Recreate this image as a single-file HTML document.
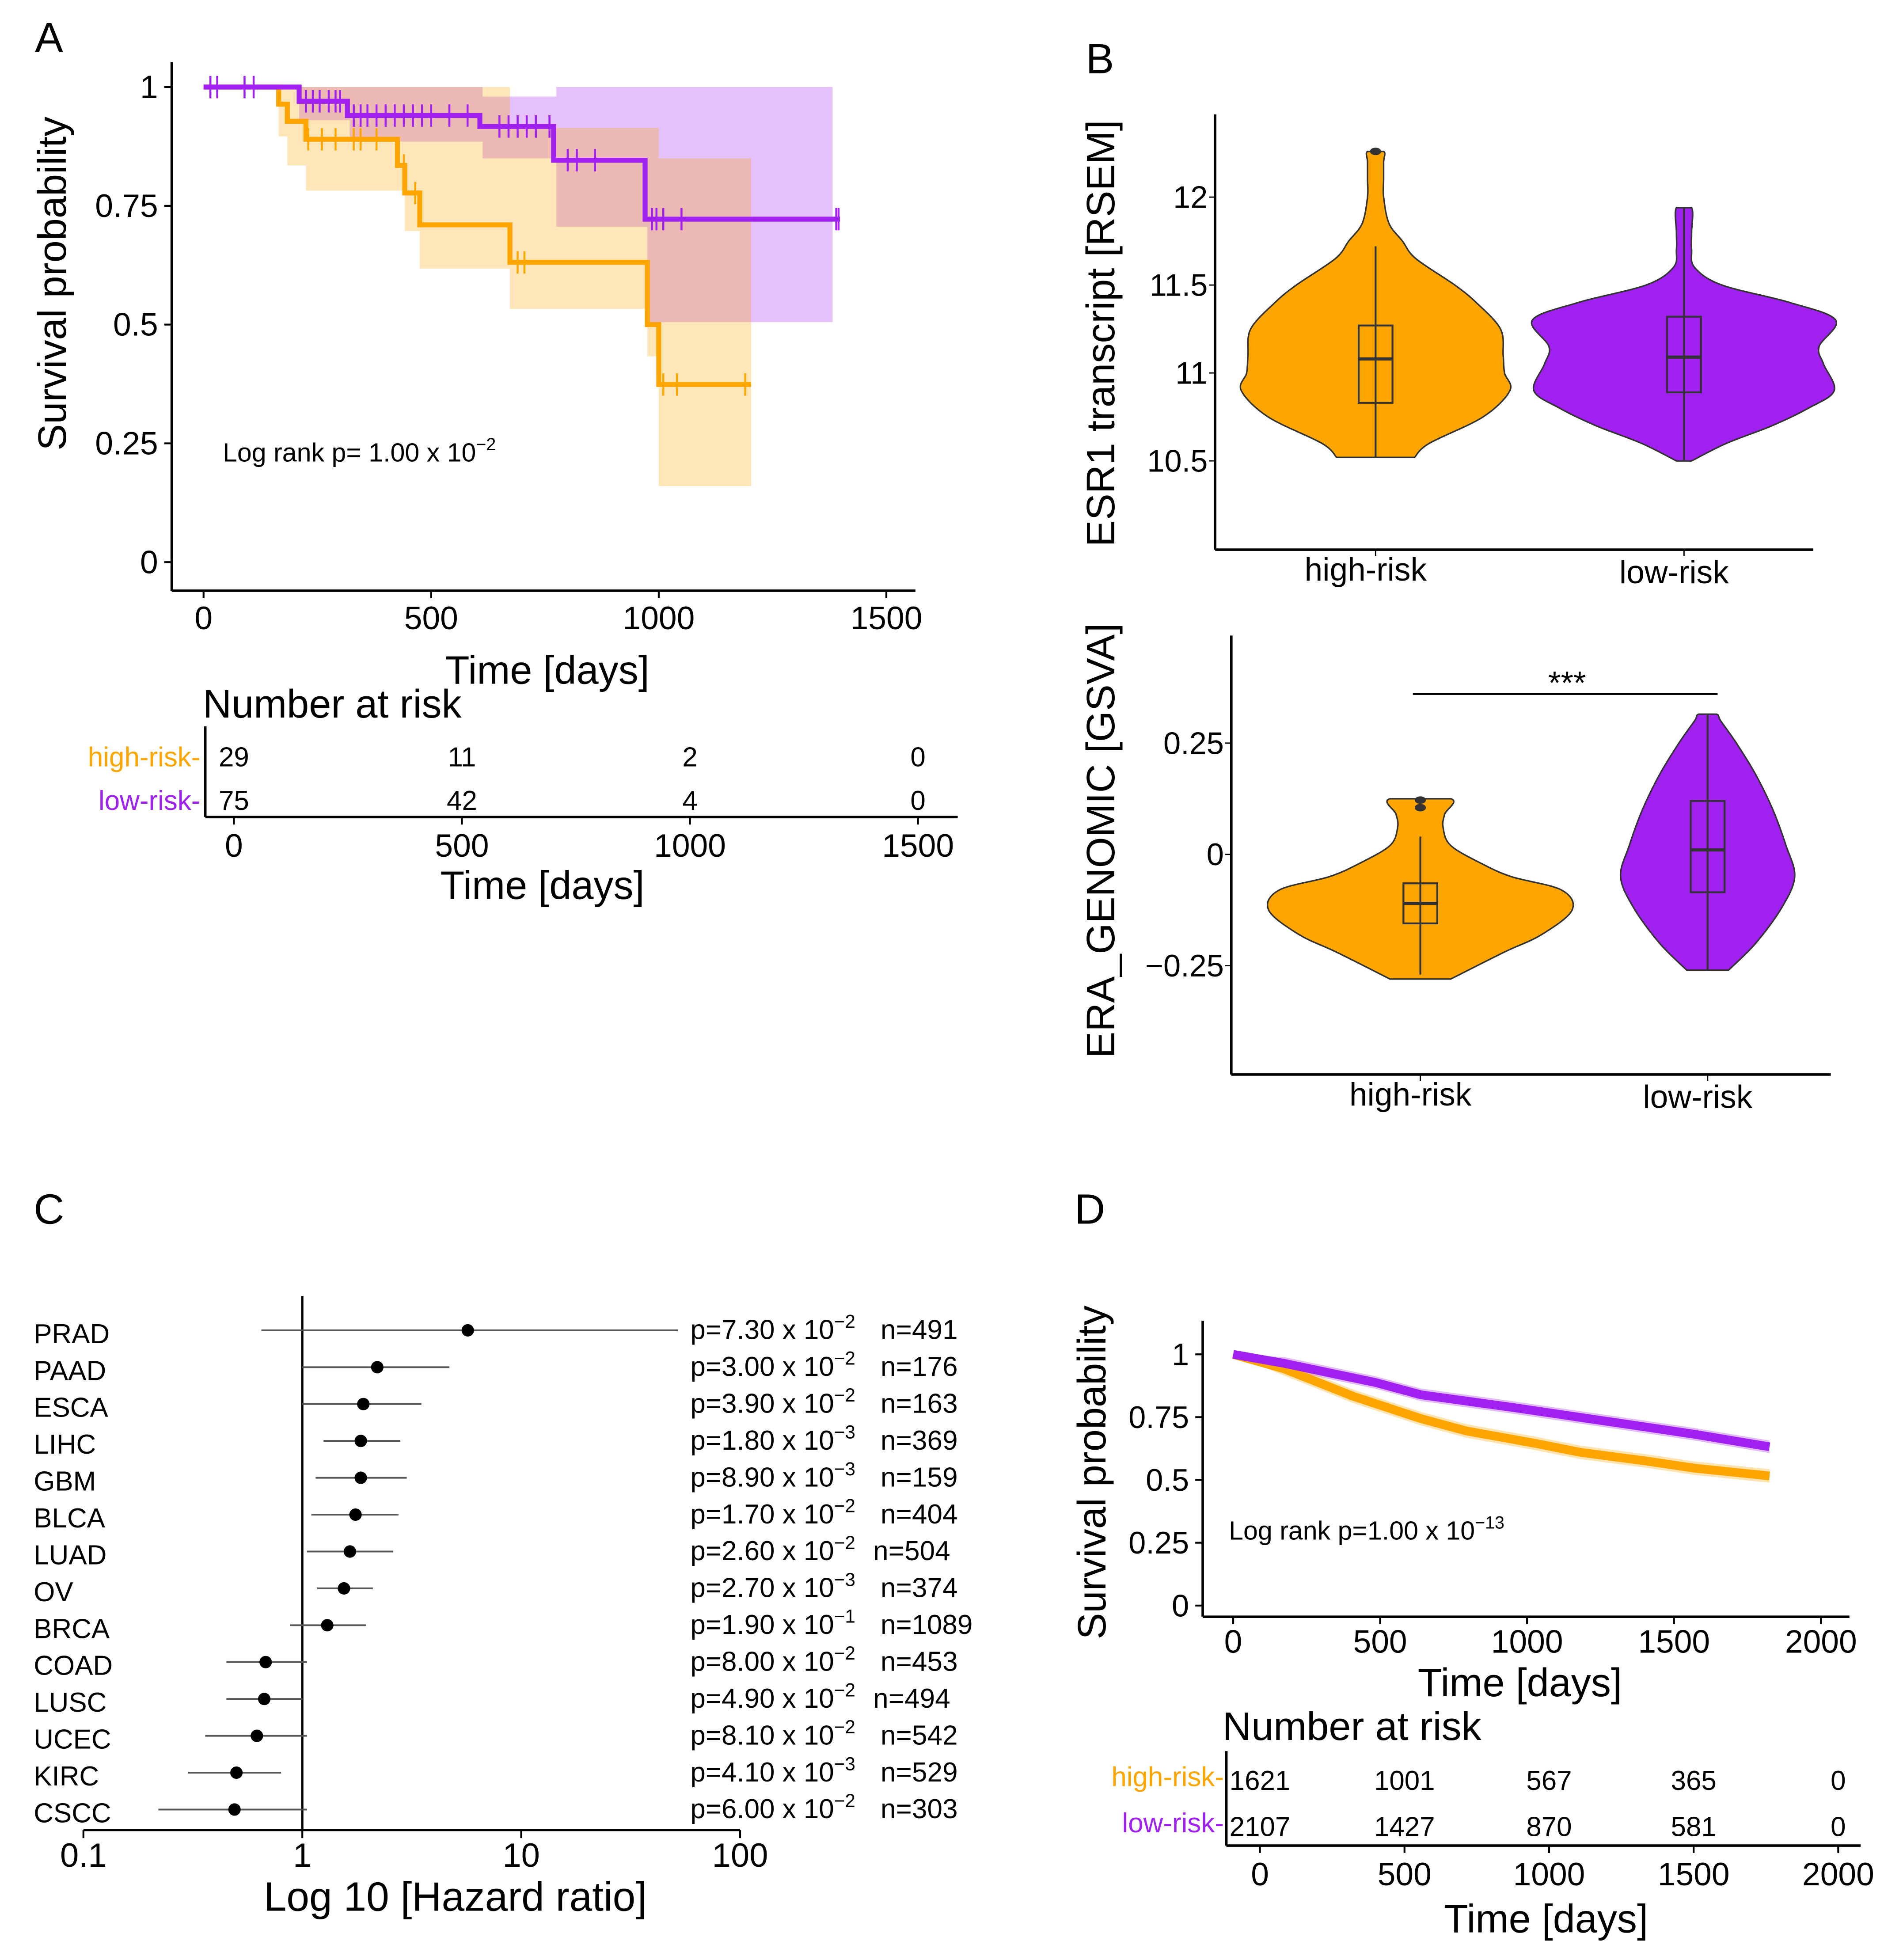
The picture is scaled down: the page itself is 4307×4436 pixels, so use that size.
<!DOCTYPE html>
<html><head><meta charset="utf-8"><style>
html,body{margin:0;padding:0;background:#fff;}
svg{display:block;}
text{font-family:"Liberation Sans Narrow","Liberation Sans",Arial,sans-serif;fill:#000;}
.w{font-family:"Liberation Sans",Arial,sans-serif;}
</style></head><body>
<svg id="fig" xmlns="http://www.w3.org/2000/svg" width="4307" height="4436" viewBox="0 0 1530 1576">
<rect x="0" y="0" width="1530" height="1576" fill="#fff"/>
<text x="28" y="42" font-size="34" class="w">A</text>
<text x="873" y="59" font-size="34" class="w">B</text>
<text x="27" y="984" font-size="34" class="w">C</text>
<text x="864" y="984" font-size="34" class="w">D</text>
<g id="gA"></g>
<g id="gB1"></g>
<g id="gB2"></g>
<g id="gC"></g>
<g id="gD"></g>
</svg>
<script>
// ---------- Panel A data ----------
const aTicksX = [0, 500, 1000, 1500];
const aTicksY = [0, 0.25, 0.5, 0.75, 1];
const aTickYLabels = ["0", "0.25", "0.5", "0.75", "1"];
const aHighT = [0, 165, 184, 225, 426, 442, 475, 673, 975, 1000];
const aHighS = [1, 0.964, 0.928, 0.89, 0.835, 0.777, 0.71, 0.631, 0.50, 0.374];
const aHighEnd = 1203;
const aLowT = [0, 210, 316, 607, 769, 970];
const aLowS = [1, 0.97, 0.94, 0.917, 0.846, 0.722];
const aLowEnd = 1398;
const aHighCiT = [165, 184, 225, 426, 442, 475, 673, 975, 1000];
const aHighCiHi = [1, 1, 1, 1, 1, 1, 0.914, 0.914, 0.85];
const aHighCiEnd = 1203;
const aHighCiLo = [0.896, 0.835, 0.782, 0.782, 0.697, 0.618, 0.533, 0.433, 0.16];
const aLowCiT = [210, 321, 613, 775, 975];
const aLowCiLo = [0.93, 0.885, 0.85, 0.706, 0.505];
const aLowCiHi = [1, 1, 0.98, 1, 1];
const aLowCiEnd = 1382;
const aHighCens = [230, 260, 290, 330, 345, 380, 440, 465, 690, 705, 1010, 1040, 1190];
const aLowCens = [15, 30, 90, 110, 225, 240, 255, 275, 290, 300, 330, 345, 360, 380, 400, 420, 440, 460, 480, 500, 540, 580, 650, 670, 690, 710, 730, 760, 800, 820, 860, 985, 995, 1010, 1050, 1390, 1395];
const aRiskTimes = [0, 500, 1000, 1500];
const aRiskHigh = [29, 11, 2, 0];
const aRiskLow = [75, 42, 4, 0];

// ---------- Panel B data ----------
const bCats = ["high-risk", "low-risk"];
const b1Ticks = [10.5, 11, 11.5, 12];
const b1TickLabels = ["10.5", "11", "11.5", "12"];
const b1HighLv = [10.52, 10.6, 10.75, 10.9, 11.0, 11.1, 11.25, 11.4, 11.5, 11.65, 11.75, 11.85, 12.0, 12.1, 12.2, 12.26];
const b1HighD = [0.29, 0.4, 0.8, 1.0, 0.96, 0.95, 0.93, 0.75, 0.59, 0.3, 0.2, 0.1, 0.06, 0.06, 0.06, 0.06];
const b1LowLv = [10.5, 10.6, 10.7, 10.8, 10.9, 11.05, 11.15, 11.3, 11.4, 11.5, 11.6, 11.7, 11.8, 11.94];
const b1LowD = [0.05, 0.28, 0.58, 0.82, 0.99, 0.92, 0.89, 1.0, 0.7, 0.25, 0.07, 0.05, 0.05, 0.05];
const b1Box = [[10.52, 10.83, 11.08, 11.27, 11.72], [10.5, 10.89, 11.09, 11.32, 11.94]];
const b1Outliers = [[12.26], []];
const b2Ticks = [-0.25, 0, 0.25];
const b2TickLabels = ["\u22120.25", "0", "0.25"];
const b2HighLv = [-0.28, -0.22, -0.18, -0.125, -0.08, -0.05, -0.02, 0.02, 0.06, 0.09, 0.125];
const b2HighD = [0.2, 0.55, 0.8, 1.0, 0.93, 0.6, 0.4, 0.2, 0.15, 0.16, 0.2];
const b2LowLv = [-0.26, -0.2, -0.12, -0.05, 0.02, 0.1, 0.18, 0.25, 0.3, 0.315];
const b2LowD = [0.24, 0.55, 0.85, 1.0, 0.9, 0.75, 0.55, 0.33, 0.15, 0.1];
const b2Box = [[-0.27, -0.155, -0.11, -0.065, 0.04], [-0.26, -0.085, 0.01, 0.12, 0.315]];
const b2Outliers = [[0.105, 0.122], []];

// ---------- Panel C data ----------
const cTypes = ["PRAD","PAAD","ESCA","LIHC","GBM","BLCA","LUAD","OV","BRCA","COAD","LUSC","UCEC","KIRC","CSCC"];
const cHR = [5.7, 2.2, 1.9, 1.85, 1.85, 1.75, 1.65, 1.55, 1.3, 0.68, 0.67, 0.62, 0.5, 0.49];
const cLo = [0.65, 1.0, 1.0, 1.25, 1.15, 1.1, 1.05, 1.17, 0.88, 0.45, 0.45, 0.36, 0.3, 0.22];
const cHi = [52, 4.7, 3.5, 2.8, 3.0, 2.75, 2.6, 2.1, 1.95, 1.05, 1.0, 1.05, 0.8, 1.05];
const cPMant = ["7.30","3.00","3.90","1.80","8.90","1.70","2.60","2.70","1.90","8.00","4.90","8.10","4.10","6.00"];
const cPExp = ["\u22122","\u22122","\u22122","\u22123","\u22123","\u22122","\u22122","\u22123","\u22121","\u22122","\u22122","\u22122","\u22123","\u22122"];
const cN = ["491","176","163","369","159","404","504","374","1089","453","494","542","529","303"];
const cTicks = [0.1, 1, 10, 100];
const cTickLabels = ["0.1", "1", "10", "100"];

// ---------- Panel D data ----------
const dTicksX = [0, 500, 1000, 1500, 2000];
const dTicksY = [0, 0.25, 0.5, 0.75, 1];
const dTickYLabels = ["0", "0.25", "0.5", "0.75", "1"];
const dLowT = [0, 174, 484, 639, 949, 1181, 1414, 1569, 1825];
const dLowS = [1, 0.964, 0.888, 0.839, 0.789, 0.749, 0.709, 0.682, 0.632];
const dHighT = [0, 174, 406, 639, 794, 1026, 1181, 1414, 1569, 1825];
const dHighS = [1, 0.942, 0.834, 0.744, 0.695, 0.646, 0.61, 0.574, 0.547, 0.516];
const dRiskTimes = [0, 500, 1000, 1500, 2000];
const dRiskHigh = [1621, 1001, 567, 365, 0];
const dRiskLow = [2107, 1427, 870, 581, 0];

const NS = "http://www.w3.org/2000/svg";
const ORANGE = "#FFA500", PURPLE = "#A020F0";
function mk(tag, attrs, parent) {
  const e = document.createElementNS(NS, tag);
  for (const k in attrs) e.setAttribute(k, attrs[k]);
  parent.appendChild(e);
  return e;
}
function txt(parent, x, y, s, size, anchor, fill) {
  const e = mk('text', {x: x, y: y, 'font-size': size, 'text-anchor': anchor || 'middle', 'dominant-baseline': 'central'}, parent);
  if (fill) e.setAttribute('style', 'fill:' + fill);
  e.textContent = s;
  return e;
}
function stepPath(T, S, end, fx, fy) {
  let d = 'M' + fx(T[0]) + ',' + fy(S[0]);
  for (let i = 1; i < T.length; i++) d += ' H' + fx(T[i]) + ' V' + fy(S[i]);
  d += ' H' + fx(end);
  return d;
}
function bandPath(T, lo, hi, end, fx, fy) {
  let top = '', bot = [];
  for (let i = 0; i < T.length; i++) {
    const x0 = fx(T[i]), x1 = fx(i + 1 < T.length ? T[i + 1] : end);
    top += (i === 0 ? 'M' : 'L') + x0 + ',' + fy(hi[i]) + ' L' + x1 + ',' + fy(hi[i]) + ' ';
    bot.unshift('L' + x1 + ',' + fy(lo[i]) + ' L' + x0 + ',' + fy(lo[i]));
  }
  return top + bot.join(' ') + ' Z';
}

// =============== Panel A ===============
(function () {
  const g = document.getElementById('gA');
  const fx = t => 163.6 + t * 0.366;
  const fy = s => 452 - s * 382;
  const lb = mk('path', {d: bandPath(aLowCiT, aLowCiLo, aLowCiHi, aLowCiEnd, fx, fy), fill: PURPLE, 'fill-opacity': 0.28}, g);
  
  
  const hb = mk('path', {d: bandPath(aHighCiT, aHighCiLo, aHighCiHi, aHighCiEnd, fx, fy), fill: ORANGE, 'fill-opacity': 0.28}, g);
  
  
  const hc = mk('path', {d: stepPath(aHighT, aHighS, aHighEnd, fx, fy), fill: 'none', stroke: ORANGE, 'stroke-width': 4}, g);
  
  
  const lc = mk('path', {d: stepPath(aLowT, aLowS, aLowEnd, fx, fy), fill: 'none', stroke: PURPLE, 'stroke-width': 4}, g);
  
  
  function survAt(T, S, t) { let s = S[0]; for (let i = 0; i < T.length; i++) if (T[i] <= t) s = S[i]; return s; }
  aHighCens.forEach(t => {
    const c = mk('line', {x1: fx(t), x2: fx(t), y1: fy(survAt(aHighT, aHighS, t)) - 9, y2: fy(survAt(aHighT, aHighS, t)) + 9, stroke: ORANGE, 'stroke-width': 1.6}, g);
    
    
  });
  aLowCens.forEach(t => {
    const c = mk('line', {x1: fx(t), x2: fx(t), y1: fy(survAt(aLowT, aLowS, t)) - 9, y2: fy(survAt(aLowT, aLowS, t)) + 9, stroke: PURPLE, 'stroke-width': 1.6}, g);
    
    
  });
  const ya = mk('line', {x1: 138, x2: 138, y1: 50, y2: 475, stroke: '#000', 'stroke-width': 2}, g);
  
  
  const xa = mk('line', {x1: 138, x2: 736, y1: 475, y2: 475, stroke: '#000', 'stroke-width': 2}, g);
  
  
  aTicksX.forEach(t => {
    const tk = mk('line', {x1: fx(t), x2: fx(t), y1: 475, y2: 481, stroke: '#000', 'stroke-width': 1.5}, g);
    
    
    const l = txt(g, fx(t), 497, String(t), 26);
    
    
  });
  aTicksY.forEach((v, i) => {
    const tk = mk('line', {x1: 132, x2: 138, y1: fy(v), y2: fy(v), stroke: '#000', 'stroke-width': 1.5}, g);
    
    
    const l = txt(g, 127, fy(v), aTickYLabels[i], 26, 'end');
    
    
  });
  const yt = txt(g, 0, 0, 'Survival probability', 32);
  yt.setAttribute('transform', 'translate(42,228) rotate(-90)');
  
  
  const xt = txt(g, 440, 539, 'Time [days]', 32);
  
  
  const lr = mk('text', {x: 179, y: 371, 'font-size': 21}, g);
  lr.innerHTML = 'Log rank p= 1.00 x 10<tspan dy="-9" font-size="14">\u22122</tspan>';
  
  
  const rx = t => 188 + t * 0.3667;
  const nt = mk('text', {x: 163, y: 577, 'font-size': 32}, g);
  nt.textContent = 'Number at risk';
  
  
  const rv = mk('line', {x1: 165, x2: 165, y1: 584, y2: 657, stroke: '#000', 'stroke-width': 2}, g);
  
  
  const rh = mk('line', {x1: 165, x2: 770, y1: 657, y2: 657, stroke: '#000', 'stroke-width': 2}, g);
  
  
  const l1 = txt(g, 161, 609, 'high-risk-', 22, 'end', ORANGE);
  
  
  const l2 = txt(g, 161, 644, 'low-risk-', 22, 'end', PURPLE);
  
  
  aRiskTimes.forEach((t, i) => {
    const a = txt(g, rx(t), 609, String(aRiskHigh[i]), 22);
    
    
    const b = txt(g, rx(t), 644, String(aRiskLow[i]), 22);
    
    
    const tk = mk('line', {x1: rx(t), x2: rx(t), y1: 657, y2: 663, stroke: '#000', 'stroke-width': 1.5}, g);
    
    
    const tl = txt(g, rx(t), 680, String(t), 26);
    
    
  });
  const rt = txt(g, 436, 712, 'Time [days]', 32);
  
  
})();

// =============== Panel B ===============
function violinPanel(g, o) {
  const fy = v => o.y0 + (v - o.v0) * o.k;
  [o.hLv, o.lLv].forEach((lv, gi) => {
    const D = gi === 0 ? o.hD : o.lD;
    const cx = o.cx[gi], mw = o.mw[gi];
    let right = lv.map((v, i) => [cx + D[i] * mw, fy(v)]);
    let left = lv.map((v, i) => [cx - D[i] * mw, fy(v)]).reverse();
    const pts = right.concat(left);
    let d = 'M' + pts[0][0] + ',' + pts[0][1];
    for (let i = 0; i < pts.length - 1; i++) {
      const p0 = pts[Math.max(i - 1, 0)], p1 = pts[i], p2 = pts[i + 1], p3 = pts[Math.min(i + 2, pts.length - 1)];
      if (i === lv.length - 1) { d += ' L' + p2[0] + ',' + p2[1]; continue; }
      const c1 = [p1[0] + (p2[0] - p0[0]) / 6, p1[1] + (p2[1] - p0[1]) / 6];
      const c2 = [p2[0] - (p3[0] - p1[0]) / 6, p2[1] - (p3[1] - p1[1]) / 6];
      d += ' C' + c1[0] + ',' + c1[1] + ' ' + c2[0] + ',' + c2[1] + ' ' + p2[0] + ',' + p2[1];
    }
    d += ' Z';
    const vp = mk('path', {d: d, fill: gi === 0 ? ORANGE : PURPLE, stroke: '#333', 'stroke-width': 1.2}, g);
    
    
    const B = o.box[gi];
    const wl = mk('line', {x1: cx, x2: cx, y1: fy(B[0]), y2: fy(B[4]), stroke: '#333', 'stroke-width': 1.5}, g);
    
    
    const br = mk('rect', {x: cx - 13.6, y: fy(B[3]), width: 27.2, height: fy(B[1]) - fy(B[3]), fill: 'none', stroke: '#333', 'stroke-width': 1.5}, g);
    
    
    const md = mk('line', {x1: cx - 13.6, x2: cx + 13.6, y1: fy(B[2]), y2: fy(B[2]), stroke: '#333', 'stroke-width': 2.5}, g);
    
    
    o.out[gi].forEach(v => {
      const c = mk('ellipse', {cx: cx, cy: fy(v), rx: 4.5, ry: 3, fill: '#333'}, g);
      
      
    });
  });
  const ya = mk('line', {x1: o.ax, x2: o.ax, y1: o.yTop, y2: o.yBot, stroke: '#000', 'stroke-width': 2}, g);
  
  
  const xa = mk('line', {x1: o.ax, x2: o.xEnd, y1: o.yBot, y2: o.yBot, stroke: '#000', 'stroke-width': 2}, g);
  
  
  o.ticks.forEach((v, i) => {
    const tk = mk('line', {x1: o.ax - 5, x2: o.ax, y1: fy(v), y2: fy(v), stroke: '#000', 'stroke-width': 1}, g);
    
    
    const l = txt(g, o.ax - 6, fy(v), o.tl[i], 25, 'end');
    l.setAttribute('class', 'w');
    
    
  });
  bCats.forEach((c, i) => {
    const tk = mk('line', {x1: o.cx[i], x2: o.cx[i], y1: o.yBot, y2: o.yBot + 5, stroke: '#000', 'stroke-width': 1}, g);
    
    
    const l = txt(g, o.cx[i] - 8, o.yBot + 16 + (i ? 2 : 0), c, 26);
    l.setAttribute('class', 'w');
    
    
  });
  const yt = txt(g, 0, 0, o.title, 32);
  yt.setAttribute('class', 'w');
  yt.setAttribute('transform', 'translate(885,' + o.titleY + ') rotate(-90)');
  
  
}
violinPanel(document.getElementById('gB1'), {
  y0: 158.5, v0: 12, k: -141.4, cx: [1106, 1354], mw: [108, 122],
  hLv: b1HighLv, hD: b1HighD, lLv: b1LowLv, lD: b1LowD, box: b1Box, out: b1Outliers,
  ax: 977, yTop: 92, yBot: 442, xEnd: 1458, ticks: b1Ticks, tl: b1TickLabels,
  title: 'ESR1 transcript [RSEM]', titleY: 268
});
violinPanel(document.getElementById('gB2'), {
  y0: 687, v0: 0, k: -358, cx: [1142, 1373], mw: [122, 70],
  hLv: b2HighLv, hD: b2HighD, lLv: b2LowLv, lD: b2LowD, box: b2Box, out: b2Outliers,
  ax: 990, yTop: 511, yBot: 864, xEnd: 1472, ticks: b2Ticks, tl: b2TickLabels,
  title: 'ERA_GENOMIC [GSVA]', titleY: 676
});
(function () {
  const g = document.getElementById('gB2');
  const sl = mk('line', {x1: 1136, x2: 1381, y1: 558, y2: 558, stroke: '#000', 'stroke-width': 1.6}, g);
  
  
  const st = txt(g, 1260, 549, '***', 26);
  st.setAttribute('class', 'w');
  
  
})();

// =============== Panel C ===============
(function () {
  const g = document.getElementById('gC');
  const fx = v => 243 + Math.log10(v) * 176;
  const fy = i => 1071.7 + i * 29.64;
  const vl = mk('line', {x1: fx(1), x2: fx(1), y1: 1042, y2: 1471.5, stroke: '#000', 'stroke-width': 1.8}, g);
  
  
  const xa = mk('line', {x1: fx(0.1), x2: fx(100), y1: 1471.5, y2: 1471.5, stroke: '#000', 'stroke-width': 1.8}, g);
  
  
  cTicks.forEach((v, i) => {
    const tk = mk('line', {x1: fx(v), x2: fx(v), y1: 1471.5, y2: 1478, stroke: '#000', 'stroke-width': 1.5}, g);
    
    
    const l = txt(g, fx(v), 1492, cTickLabels[i], 27);
    
    
  });
  const xt = txt(g, 366, 1525, 'Log 10 [Hazard ratio]', 33);
  
  
  cTypes.forEach((c, i) => {
    const y = fy(i);
    const l = txt(g, 27, y + 1, c, 22, 'start');
    
    
    const ci = mk('line', {x1: fx(cLo[i]), x2: fx(cHi[i]), y1: y - 2, y2: y - 2, stroke: '#555', 'stroke-width': 1.4}, g);
    
    
    const pt = mk('circle', {cx: fx(cHR[i]), cy: y - 2, r: 5, fill: '#000'}, g);
    
    
    const p = mk('text', {x: 555, y: y + 5, 'font-size': 22}, g);
    p.innerHTML = 'p=' + cPMant[i] + ' x 10<tspan dy="-9" font-size="15">' + cPExp[i] + '</tspan>';
    
    
    const n = mk('text', {x: (cN[i] === '504' || cN[i] === '494') ? 702 : 708, y: y + 5, 'font-size': 22, textLength: cN[i].length === 4 ? 74 : 62}, g);
    n.textContent = 'n=' + cN[i];
    
    
  });
})();

// =============== Panel D ===============
(function () {
  const g = document.getElementById('gD');
  const fx = t => 991.5 + t * 0.2363;
  const fy = s => 1291 - s * 202;
  function line(T, S) { return T.map((t, i) => (i ? 'L' : 'M') + fx(t) + ',' + fy(S[i])).join(' '); }
  function band(T, S, w) {
    const up = T.map((t, i) => (i ? 'L' : 'M') + fx(t) + ',' + fy(Math.min(1, S[i] + w * (i ? 1 : 0)))).join(' ');
    const dn = T.slice().reverse().map((t, j) => { const i = T.length - 1 - j; return 'L' + fx(t) + ',' + fy(S[i] - w * (i ? 1 : 0)); }).join(' ');
    return up + ' ' + dn + ' Z';
  }
  const lb = mk('path', {d: band(dLowT, dLowS, 0.025), fill: PURPLE, 'fill-opacity': 0.3}, g);
  
  
  const hb = mk('path', {d: band(dHighT, dHighS, 0.027), fill: ORANGE, 'fill-opacity': 0.3}, g);
  
  
  const hc = mk('path', {d: line(dHighT, dHighS), fill: 'none', stroke: ORANGE, 'stroke-width': 7}, g);
  
  
  const lc = mk('path', {d: line(dLowT, dLowS), fill: 'none', stroke: PURPLE, 'stroke-width': 7}, g);
  
  
  const ya = mk('line', {x1: 967, x2: 967, y1: 1062, y2: 1300, stroke: '#000', 'stroke-width': 2}, g);
  
  
  const xa = mk('line', {x1: 967, x2: 1487, y1: 1300, y2: 1300, stroke: '#000', 'stroke-width': 2}, g);
  
  
  dTicksX.forEach(t => {
    const tk = mk('line', {x1: fx(t), x2: fx(t), y1: 1300, y2: 1306, stroke: '#000', 'stroke-width': 1.5}, g);
    
    
    const l = txt(g, fx(t), 1320, String(t), 26);
    
    
  });
  dTicksY.forEach((v, i) => {
    const tk = mk('line', {x1: 961, x2: 967, y1: fy(v), y2: fy(v), stroke: '#000', 'stroke-width': 1.5}, g);
    
    
    const l = txt(g, 956, fy(v), dTickYLabels[i], 25, 'end');
    
    
  });
  const yt = txt(g, 0, 0, 'Survival probability', 32);
  yt.setAttribute('transform', 'translate(878,1184) rotate(-90)');
  
  
  const xt = txt(g, 1222, 1353, 'Time [days]', 32);
  
  
  const lr = mk('text', {x: 988, y: 1238, 'font-size': 21}, g);
  lr.innerHTML = 'Log rank p=1.00 x 10<tspan dy="-9" font-size="14">\u221213</tspan>';
  
  
  const rx = t => 1013 + t * 0.2325;
  const nt = mk('text', {x: 983, y: 1399, 'font-size': 32}, g);
  nt.textContent = 'Number at risk';
  
  
  const rv = mk('line', {x1: 986, x2: 986, y1: 1408, y2: 1484, stroke: '#000', 'stroke-width': 2}, g);
  
  
  const rh = mk('line', {x1: 986, x2: 1496, y1: 1484, y2: 1484, stroke: '#000', 'stroke-width': 2}, g);
  
  
  const l1 = txt(g, 984, 1429, 'high-risk-', 22, 'end', ORANGE);
  
  
  const l2 = txt(g, 984, 1466, 'low-risk-', 22, 'end', PURPLE);
  
  
  dRiskTimes.forEach((t, i) => {
    const a = txt(g, rx(t) + (i === 0 ? 0 : 0), 1432, String(dRiskHigh[i]), 22);
    
    
    const b = txt(g, rx(t), 1469, String(dRiskLow[i]), 22);
    
    
    const tk = mk('line', {x1: rx(t), x2: rx(t), y1: 1484, y2: 1490, stroke: '#000', 'stroke-width': 1.5}, g);
    
    
    const tl = txt(g, rx(t), 1507, String(t), 26);
    
    
  });
  const rt = txt(g, 1243, 1543, 'Time [days]', 32);
  
  
})();
</script>
</body></html>
